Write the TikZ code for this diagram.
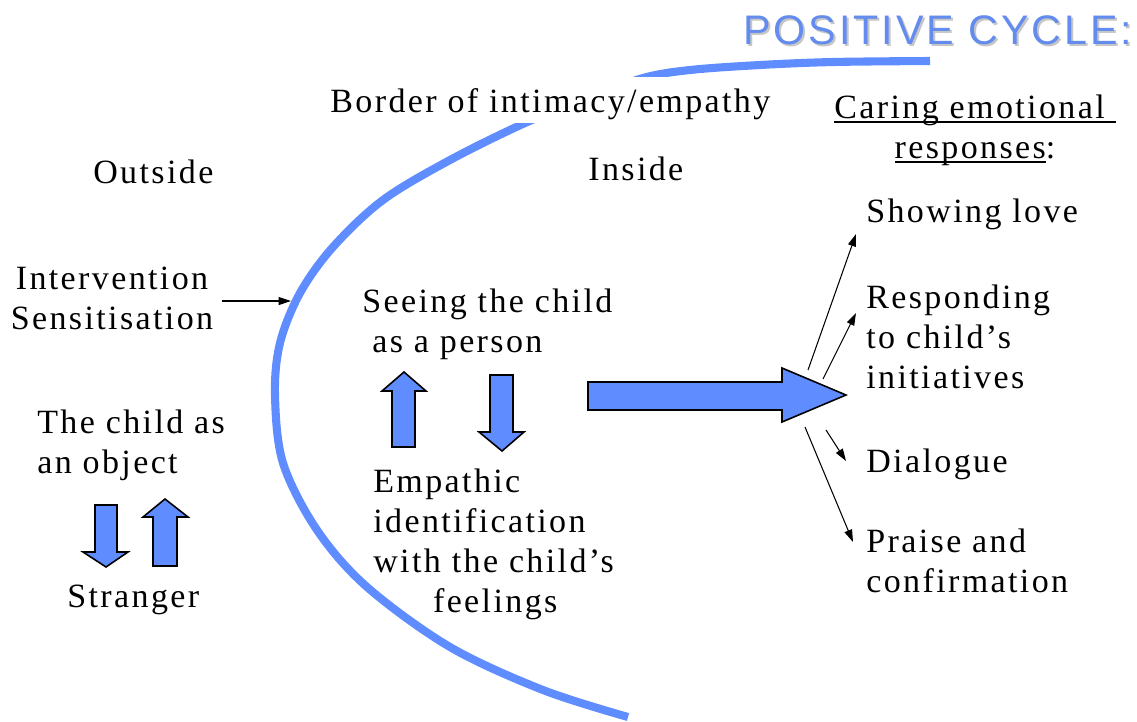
\documentclass[tikz,border=0pt]{standalone}
\usepackage{fontspec}
\setmainfont{Liberation Serif}
\newfontfamily\tf[LetterSpace=7]{Liberation Serif}
\newfontfamily\hf[LetterSpace=7]{Liberation Sans}
\usetikzlibrary{arrows.meta}
\definecolor{cycleblue}{RGB}{95,140,255}
\definecolor{titleblue}{RGB}{100,140,238}
\newcommand\myul[1]{\setbox0\hbox{#1}\rlap{\rule[-2.4pt]{\wd0}{1pt}}\box0}
\tikzset{
  lbl/.style={inner sep=0pt, font=\tf\fontsize{19.35}{22.76}\selectfont},
  blockarrow/.style={fill=cycleblue, draw=black, line width=0.9pt, line join=miter},
  thinarrow/.style={line width=0.6pt, -{Triangle[length=7pt,width=4.5pt]}},
  border/.style={draw=cycleblue, line width=4.6pt}
}
\begin{document}
\begin{tikzpicture}[x=0.02cm,y=-0.02cm]
\useasboundingbox (0,0) rectangle (1137,721);
% border of intimacy curve
\draw[border] plot[smooth, tension=0.55] coordinates {(628,717) (543,690) (450,647) (367,587) (317,530) (283,463) (275,395) (280,343) (300,293) (333,247) (383,200) (450,160) (525,123) (585,99) (643,78) (690,70) (760,65) (833,62) (930,61)};
% title
\node[anchor=base west, inner sep=0pt, font=\hf\fontsize{23.5}{27}\selectfont, text=gray!45] (titleshadow) at (745,46) {POSITIVE CYCLE:};
\node[anchor=base west, inner sep=0pt, font=\hf\fontsize{23.5}{27}\selectfont, text=titleblue] (title) at (743,44) {POSITIVE CYCLE:};
% labels
\node[lbl, anchor=base west, fill=white, text height=19.9pt, text depth=6.3pt, inner xsep=4pt] (border) at (323,112) {Border of intimacy/empathy};
\node[lbl, anchor=base west] (outside) at (93,183) {Outside};
\node[lbl, anchor=base west] (inside) at (588,180) {Inside};
\node[lbl, anchor=north, align=center] (caring) at (975,95) {\myul{Caring emotional\ }\\\myul{responses}:};
\node[lbl, anchor=base west] (love) at (866,222) {Showing love};
\node[lbl, anchor=north west, align=left] (respond) at (866,285) {Responding\\to child’s\\initiatives};
\node[lbl, anchor=base west] (dialogue) at (866,472) {Dialogue};
\node[lbl, anchor=north west, align=left] (praise) at (866,529) {Praise and\\confirmation};
\node[lbl, anchor=north, align=center] (interv) at (112,267) {Intervention\\Sensitisation};
\node[lbl, anchor=north west, align=left] (seeing) at (362,289) {Seeing the child\\\hspace*{5.7pt}as a person};
\node[lbl, anchor=north west, align=left] (object) at (37,410) {The child as\\an object};
\node[lbl, anchor=base west] (stranger) at (67,607) {Stranger};
\node[lbl, anchor=north west, align=left] (empathic) at (373,469) {Empathic\\identification\\with the child’s\\\hspace*{34pt}feelings};
% block arrows
\draw[blockarrow] (588,382) -- (782,382) -- (782,368) -- (846,395) -- (782,422) -- (782,410) -- (588,410) -- cycle;
\draw[blockarrow] (404,372) -- (426,391) -- (415,391) -- (415,447) -- (392,447) -- (392,391) -- (382,391) -- cycle;
\draw[blockarrow] (490,375) -- (513,375) -- (513,432) -- (524,432) -- (502,451) -- (479,432) -- (490,432) -- cycle;
\draw[blockarrow] (95,505) -- (117,505) -- (117,552) -- (128,552) -- (106,567) -- (83,552) -- (95,552) -- cycle;
\draw[blockarrow] (165,499) -- (188,517) -- (177,517) -- (177,566) -- (153,566) -- (153,517) -- (143,517) -- cycle;
% thin arrows
\coordinate (i0) at (222,301);
\coordinate (i1) at (291,301);
\coordinate (a0) at (808,370);
\coordinate (a1) at (856,234);
\coordinate (b0) at (823,379);
\coordinate (b1) at (856,313);
\coordinate (c0) at (826,430);
\coordinate (c1) at (846,461);
\coordinate (d0) at (805,427);
\coordinate (d1) at (853,542);
\draw[thinarrow] (i0) -- (i1);
\draw[thinarrow] (a0) -- (a1);
\draw[thinarrow] (b0) -- (b1);
\draw[thinarrow] (c0) -- (c1);
\draw[thinarrow] (d0) -- (d1);
\end{tikzpicture}
\end{document}
